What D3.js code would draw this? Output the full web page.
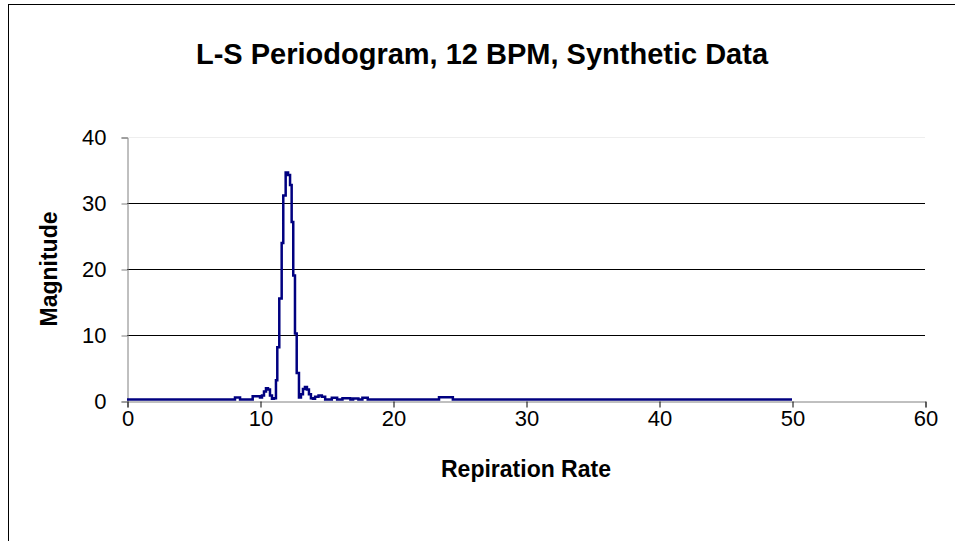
<!DOCTYPE html>
<html>
<head>
<meta charset="utf-8">
<script src="https://cdn.jsdelivr.net/npm/d3@7/dist/d3.min.js"></script>
<style>
  html, body { margin: 0; padding: 0; background: #fff; }
  svg { display: block; font-family: "Liberation Sans", Arial, sans-serif; }
</style>
</head>
<body>
<svg id="chart" width="955" height="541"></svg>
<script>
// Lomb-Scargle periodogram of a synthetic 12 BPM signal.
// Each entry starts a step: the magnitude holds until the next rate.
const rates = [
  0, 8.12, 8.5, 9.45, 10.0, 10.15, 10.3, 10.45, 10.6, 10.75, 10.9, 11.05,
  11.2, 11.3, 11.45, 11.63, 11.75, 11.93, 12.11, 12.26, 12.38, 12.5, 12.63,
  12.76, 12.93, 13.08, 13.23, 13.38, 13.53, 13.68, 13.83, 13.98, 14.14,
  14.4, 14.65, 14.9, 15.4, 15.8, 16.2, 16.8, 17.0, 17.4, 17.7, 18.1,
  23.46, 24.5, 50
];
const magnitudes = [
  0, 0.3, 0, 0.5, 0.3, 0.6, 1.2, 1.7, 1.5, 0.6, 0.1, 0.2,
  2.9, 7.9, 15.3, 23.7, 30.9, 34.4, 34.0, 32.5, 26.9, 18.8, 10.0,
  4.0, 0.3, 0.8, 1.6, 1.9, 1.5, 0.8, 0.2, 0.1, 0.4,
  0.6, 0.4, 0, 0.25, 0, 0.2, 0, 0.15, 0, 0.25, 0,
  0.35, 0, 0
];
const xTicks = [0, 10, 20, 30, 40, 50, 60];
const yTicks = [0, 10, 20, 30, 40];

const svg = d3.select("#chart");
const plot = { left: 127, right: 925, top: 137, bottom: 401 };

const x = d3.scaleLinear().domain([0, 60]).range([plot.left, plot.right]);
const y = d3.scaleLinear().domain([0, 40]).range([plot.bottom, plot.top]);

// chart frame
svg.append("rect")
  .attr("x", 8.5).attr("y", 4.5)
  .attr("width", 960).attr("height", 560)
  .attr("fill", "#fff").attr("stroke", "#000").attr("stroke-width", 1);

// title
svg.append("text")
  .attr("x", 482).attr("y", 64)
  .attr("text-anchor", "middle")
  .attr("font-size", 29).attr("font-weight", "bold")
  .text("L-S Periodogram, 12 BPM, Synthetic Data");

// horizontal gridlines
svg.append("g").selectAll("line")
  .data(yTicks.filter(d => d > 0))
  .join("line")
  .attr("x1", plot.left).attr("x2", plot.right)
  .attr("y1", d => Math.round(y(d)) + 0.5).attr("y2", d => Math.round(y(d)) + 0.5)
  .attr("stroke", d => d === 40 ? "#eeeeee" : "#000")
  .attr("stroke-width", 1);

// y axis
const yAxis = svg.append("g")
  .attr("transform", `translate(${plot.left + 0.5},0.5)`)
  .call(d3.axisLeft(y).tickValues(yTicks).tickSize(6).tickPadding(15));
yAxis.select(".domain").attr("stroke", "#808080");
yAxis.selectAll(".tick line").attr("stroke", "#808080");
yAxis.selectAll(".tick text")
  .attr("font-size", 22).attr("font-family", "Liberation Sans, Arial, sans-serif")
  .attr("fill", "#000");

// x axis
const xAxis = svg.append("g")
  .attr("transform", `translate(0.5,${plot.bottom + 0.5})`)
  .call(d3.axisBottom(x).tickValues(xTicks).tickSize(6).tickPadding(3));
xAxis.select(".domain").attr("stroke", "#808080");
xAxis.selectAll(".tick line").attr("stroke", "#000");
xAxis.selectAll(".tick text")
  .attr("font-size", 22).attr("font-family", "Liberation Sans, Arial, sans-serif")
  .attr("fill", "#000");

// periodogram trace
const series = rates.map((r, i) => ({ r, m: magnitudes[i] }));
svg.append("path")
  .datum(series)
  .attr("fill", "none")
  .attr("stroke", "#000080")
  .attr("stroke-width", 2.5)
  .attr("stroke-linejoin", "miter")
  .attr("d", d3.line()
    .x(d => x(d.r))
    .y(d => y(d.m) - 1.5)
    .curve(d3.curveStepAfter));

// axis titles
svg.append("text")
  .attr("x", (plot.left + plot.right) / 2).attr("y", 477)
  .attr("text-anchor", "middle")
  .attr("font-size", 23).attr("font-weight", "bold")
  .text("Repiration Rate");

svg.append("text")
  .attr("transform", `translate(57,${(plot.top + plot.bottom) / 2}) rotate(-90)`)
  .attr("text-anchor", "middle")
  .attr("font-size", 23).attr("font-weight", "bold")
  .text("Magnitude");
</script>
</body>
</html>
